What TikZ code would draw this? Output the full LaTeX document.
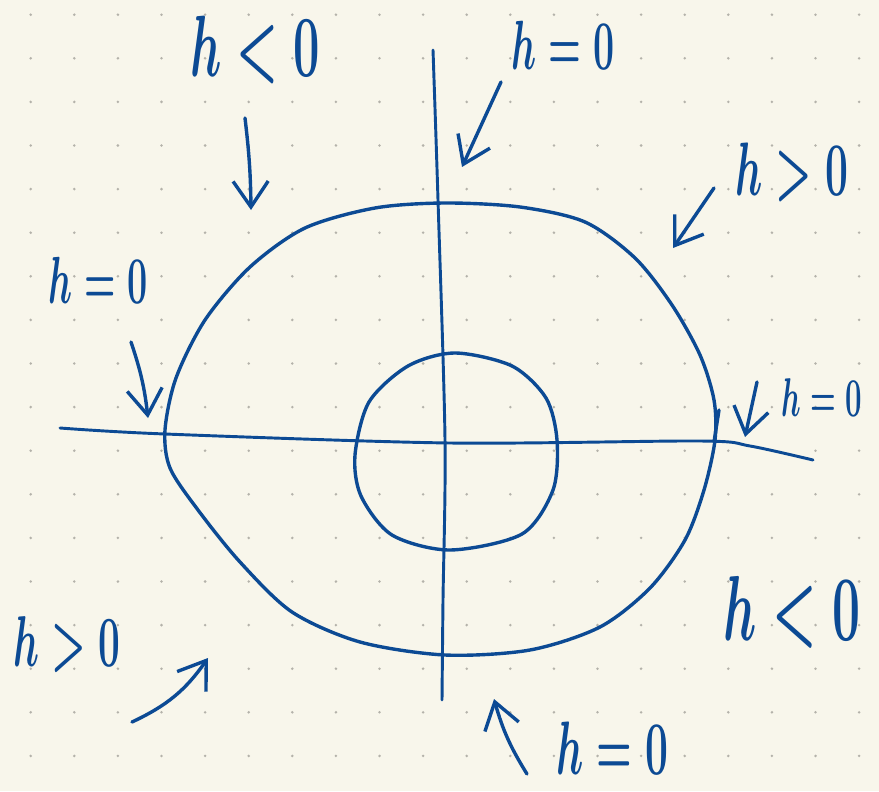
\documentclass[tikz,border=0pt]{standalone}
\usepackage{xcolor}
\usepackage{tikz}
\usetikzlibrary{arrows.meta, positioning, calc}
\definecolor{Paper}{RGB}{248,246,235}
\definecolor{GridDot}{RGB}{180,178,170}
\definecolor{Ink}{RGB}{12,74,148}

\begin{document}
\begin{tikzpicture}[x=0.03cm, y=-0.03cm,
    ink/.style={Ink, line width=2.9pt, line cap=round, line join=round},
    hand/.style={ink, -{Straight Barb[length=22pt, width=30pt]}},
    lbl/.style={text=Ink, inner sep=0pt, font=\Huge\boldmath, xscale=1.4, yscale=2.6}]
    % 点阵纸背景
    \fill[Paper] (0,0) rectangle (879,791);
    \useasboundingbox (0,0) rectangle (879,791);
    \foreach \i in {0,...,19}
        \foreach \j in {0,...,17}
            \fill[GridDot] (30.7+43.6*\i, 14.7+43.6*\j) circle[radius=1.2pt];

    % 坐标轴 (手绘)
    \draw[ink, line width=2.5pt] plot[smooth] coordinates
        {(60,428) (165,434) (450,443) (700,441) (750,446) (813,460)};
    \draw[ink, line width=2.5pt] plot[smooth] coordinates
        {(433,50) (438,200) (445,440) (443,600) (442,700)};

    % 外圈 h=0
    \draw[ink] plot[smooth cycle] coordinates
        {(445,203) (520,207) (585,222) (635,258) (672,305) (700,355) (714,400)
         (715,440) (704,490) (685,540) (650,588) (600,627) (530,650) (445,655)
         (360,642) (292,612) (240,562) (198,510) (170,468) (165,430) (176,378)
         (205,320) (250,267) (305,228) (375,208)};
    \draw[ink] (719,410) -- (714,442);

    % 内圈
    \draw[ink] plot[smooth cycle] coordinates
        {(455,353) (512,366) (546,398) (557,440) (553,490) (522,534) (450,550)
         (392,535) (361,496) (355,455) (369,402) (408,366)};

    % 标签
    \node[lbl, scale=1.15] (ltop)  at (255,50)  {$h<0$};
    \node[lbl, scale=0.92] (ztop)  at (563,45)  {$h=0$};
    \node[lbl, scale=1.0]  (gur)   at (792,172) {$h>0$};
    \node[lbl, scale=0.88] (zleft) at (98,280)  {$h=0$};
    \node[lbl, scale=0.72] (zrght) at (822,398) {$h=0$};
    \node[lbl, scale=0.95] (gbl)   at (67,645)  {$h>0$};
    \node[lbl, scale=1.22] (lbr)   at (792,612) {$h<0$};
    \node[lbl, scale=1.0]  (zbot)  at (612,748) {$h=0$};

    % 手绘箭头
    \coordinate (ltopS)  at (245,118); \coordinate (ltopT)  at (251,210);
    \coordinate (ztopS)  at (501,82);  \coordinate (ztopT)  at (462,167);
    \coordinate (gurS)   at (714,188); \coordinate (gurT)   at (673,248);
    \coordinate (zleftS) at (131,342); \coordinate (zleftT) at (148,418);
    \coordinate (zrghtS) at (757,382); \coordinate (zrghtT) at (745,437);
    \coordinate (gblS)   at (132,722); \coordinate (gblT)   at (208,658);
    \coordinate (zbotS)  at (527,774); \coordinate (zbotT)  at (494,699);

    \draw[hand] (ltopS) to[bend left=3] (ltopT);
    \draw[hand] (ztopS) -- (ztopT);
    \draw[hand] (gurS) -- (gurT);
    \draw[hand] (zleftS) to[bend left=6] (zleftT);
    \draw[hand] (zrghtS) -- (zrghtT);
    \draw[hand] (gblS) to[bend right=15] (gblT);
    \draw[hand] (zbotS) to[bend left=8] (zbotT);
\end{tikzpicture}
\end{document}
